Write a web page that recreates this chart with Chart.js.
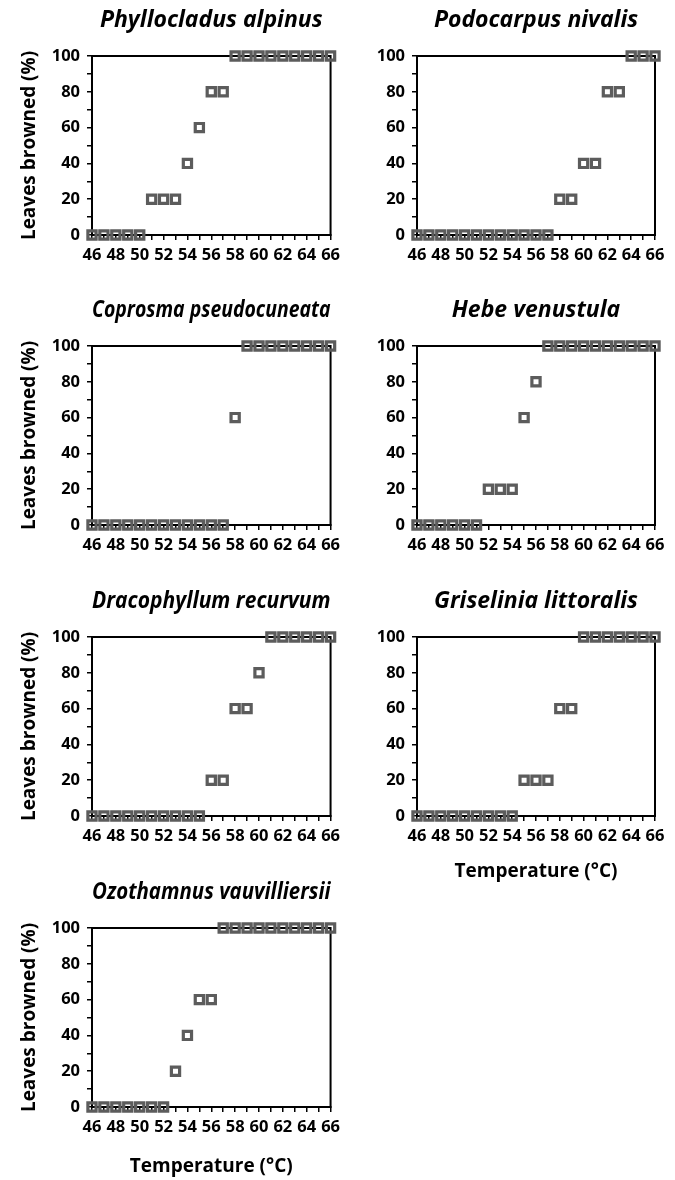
<!DOCTYPE html>
<html lang="en">
<head>
    <meta charset="UTF-8">
    <title>Leaves browned vs temperature</title>
    <script src="https://cdn.jsdelivr.net/npm/chart.js"></script>
    <style>
        body { margin: 0; background: #fff; }
        #wrap { position: relative; width: 675px; height: 1180px; overflow: hidden; }
        #wrap canvas { position: absolute; }
    </style>
</head>
<body>
    <div id="wrap"></div>
    <script>
        // temperatures (°C) and % leaves browned for each species
        const temps = [46, 47, 48, 49, 50, 51, 52, 53, 54, 55, 56, 57, 58, 59, 60, 61, 62, 63, 64, 65, 66];
        const phyllocladus = [0, 0, 0, 0, 0, 20, 20, 20, 40, 60, 80, 80, 100, 100, 100, 100, 100, 100, 100, 100, 100];
        const podocarpus = [0, 0, 0, 0, 0, 0, 0, 0, 0, 0, 0, 0, 20, 20, 40, 40, 80, 80, 100, 100, 100];
        const coprosma = [0, 0, 0, 0, 0, 0, 0, 0, 0, 0, 0, 0, 60, 100, 100, 100, 100, 100, 100, 100, 100];
        const hebe = [0, 0, 0, 0, 0, 0, 20, 20, 20, 60, 80, 100, 100, 100, 100, 100, 100, 100, 100, 100, 100];
        const dracophyllum = [0, 0, 0, 0, 0, 0, 0, 0, 0, 0, 20, 20, 60, 60, 80, 100, 100, 100, 100, 100, 100];
        const griselinia = [0, 0, 0, 0, 0, 0, 0, 0, 0, 20, 20, 20, 60, 60, 100, 100, 100, 100, 100, 100, 100];
        const ozothamnus = [0, 0, 0, 0, 0, 0, 0, 20, 40, 60, 60, 100, 100, 100, 100, 100, 100, 100, 100, 100, 100];

        const xTicks = [46, 48, 50, 52, 54, 56, 58, 60, 62, 64, 66];
        const yTicks = [0, 20, 40, 60, 80, 100];

        const FONT = '"Open Sans"';

        const frame = {
            id: 'frame',
            beforeDatasetsDraw(chart) {
                const a = chart.chartArea, ctx = chart.ctx;
                ctx.save();
                ctx.strokeStyle = '#000';
                ctx.lineWidth = 2;
                ctx.strokeRect(a.left, a.top, a.right - a.left, a.bottom - a.top);
                ctx.restore();
            }
        };

        function makePanel(title, values, col, top, height, showYTitle, showXTitle) {
            const left = col === 0 ? 0 : 337;
            const width = col === 0 ? 345 : 338;
            const canvas = document.createElement('canvas');
            canvas.width = width;
            canvas.height = height;
            canvas.style.left = left + 'px';
            canvas.style.top = top + 'px';
            document.getElementById('wrap').appendChild(canvas);

            const padLeft = col === 0 ? 14 : 0;
            const areaLeft = col === 0 ? 92 : 80;
            const areaRight = col === 0 ? 335 : 318;

            new Chart(canvas.getContext('2d'), {
                type: 'scatter',
                data: {
                    datasets: [{
                        data: temps.map((t, i) => ({ x: t, y: values[i] })),
                        pointStyle: 'rect',
                        pointRadius: 5.8,
                        pointHoverRadius: 5.8,
                        borderWidth: 3.2,
                        borderColor: '#5c5c5c',
                        backgroundColor: 'rgba(0,0,0,0)',
                        clip: false
                    }]
                },
                options: {
                    responsive: false,
                    animation: false,
                    events: [],
                    layout: { padding: { left: padLeft, right: width - areaRight, top: 0, bottom: 0 } },
                    plugins: {
                        legend: { display: false },
                        tooltip: { enabled: false },
                        title: {
                            display: true,
                            text: title,
                            fullSize: false,
                            color: '#000',
                            font: { family: FONT, size: 23, style: 'italic', weight: 'bold', lineHeight: 1.2 },
                            padding: { top: 7, bottom: 21.4 }
                        }
                    },
                    scales: {
                        x: {
                            type: 'linear',
                            min: temps[0],
                            max: temps[temps.length - 1],
                            afterFit: s => { s.height = height - 235; },
                            border: { display: true, color: '#000', width: 2 },
                            grid: { drawOnChartArea: false, drawTicks: true, tickLength: 5, color: '#000', lineWidth: 1.5 },
                            ticks: {
                                stepSize: 1,
                                autoSkip: false,
                                maxRotation: 0,
                                padding: 5,
                                color: '#000',
                                font: { family: FONT, size: 16.5, weight: 'bold' },
                                callback: v => xTicks.includes(v) ? v : ''
                            },
                            title: {
                                display: showXTitle,
                                text: 'Temperature (°C)',
                                color: '#000',
                                font: { family: FONT, size: 19, weight: 'bold' },
                                padding: { top: 0, bottom: 2 }
                            }
                        },
                        y: {
                            min: 0,
                            max: 100,
                            afterFit: s => { s.width = areaLeft - padLeft; },
                            border: { display: true, color: '#000', width: 2 },
                            grid: { drawOnChartArea: false, drawTicks: true, tickLength: 5, color: '#000', lineWidth: 1.5 },
                            ticks: {
                                stepSize: 10,
                                autoSkip: false,
                                padding: 7,
                                color: '#000',
                                font: { family: FONT, size: 16.5, weight: 'bold' },
                                callback: v => yTicks.includes(v) ? v : ''
                            },
                            title: {
                                display: showYTitle,
                                text: 'Leaves browned (%)',
                                color: '#000',
                                font: { family: FONT, size: 19, weight: 'bold' },
                                padding: { top: 4, bottom: 4 }
                            }
                        }
                    }
                },
                plugins: [frame]
            });
        }

        makePanel('Phyllocladus alpinus', phyllocladus, 0, 0, 290, true, false);
        makePanel('Podocarpus nivalis', podocarpus, 1, 0, 290, false, false);
        makePanel('Coprosma pseudocuneata', coprosma, 0, 290, 290, true, false);
        makePanel('Hebe venustula', hebe, 1, 290, 290, false, false);
        makePanel('Dracophyllum recurvum', dracophyllum, 0, 581, 290, true, false);
        makePanel('Griselinia littoralis', griselinia, 1, 581, 304, false, true);
        makePanel('Ozothamnus vauvilliersii', ozothamnus, 0, 872, 308, true, true);
    </script>
</body>
</html>
